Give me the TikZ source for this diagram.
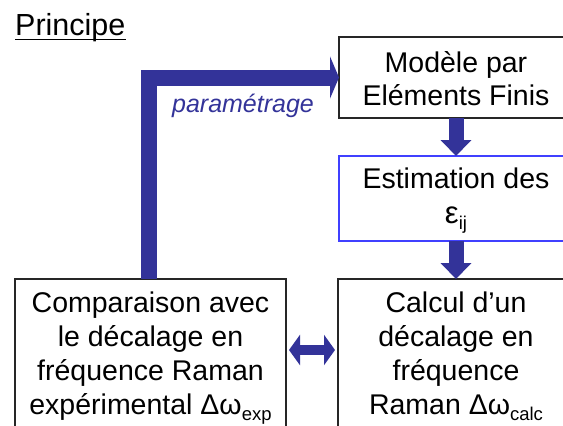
\documentclass[tikz,border=0pt]{standalone}
\usepackage{fontspec}
\setmainfont{Liberation Sans}
\usetikzlibrary{arrows.meta}
\definecolor{arrowblue}{RGB}{51,51,153}
\definecolor{boxblue}{RGB}{64,64,255}
\newcommand{\fstrut}{\rule{0pt}{27pt}}
\newcommand{\subtxt}[1]{\raisebox{-6pt}{\fontsize{18.5}{18.5}\selectfont #1}}
\begin{document}
\begin{tikzpicture}[x=1pt,y=-1pt,
  box/.style={draw=black!85, line width=1.2pt, minimum width=234pt, inner sep=0pt, outer sep=0pt},
  txt/.style={align=center, inner sep=0pt, outer sep=0pt, anchor=north},
  flow/.style={draw=arrowblue, line width=15pt, -{Triangle[width=30pt,length=16pt]}},
  twoway/.style={draw=arrowblue, line width=10pt, {Triangle[width=30pt,length=11pt]}-{Triangle[width=30pt,length=11pt]}, shorten <=3pt, shorten >=3pt},
  feedback/.style={draw=arrowblue, line width=16pt, line join=miter, -{Triangle[width=42pt,length=9pt]}}
]
\useasboundingbox (0,0) rectangle (563,426);
% title
\node[anchor=base west, inner sep=0pt, font=\fontsize{30.5}{30.5}\selectfont] (title) at (15,35) {Principe};
\draw[line width=1.5pt] ([yshift=-4.5pt]title.base west) -- ([yshift=-4.5pt]title.base east);
% boxes
\node[box, minimum height=81pt] (m1) at (456,77.5) {};
\node[box, draw=boxblue, minimum height=85pt] (m2) at (456,198.5) {};
\node[box, minimum height=200pt, minimum width=236pt] (rb) at (456,379) {};
\node[box, minimum height=200pt, minimum width=271pt] (lb) at (150.5,379) {};
% texts
\node[txt, font=\fontsize{28.5}{33}\selectfont] (t1) at (456,45) {\fstrut Modèle par\\Eléments Finis};
\node[txt, font=\fontsize{28.5}{35}\selectfont] (t2) at (456,161) {\fstrut Estimation des\\{\fontsize{31}{31}\selectfont ε}\subtxt{ij}};
\node[txt, font=\fontsize{28.5}{34}\selectfont] (t3) at (456,285) {\fstrut Calcul d’un\\décalage en\\fréquence\\Raman Δω\subtxt{calc}};
\node[txt, font=\fontsize{28.5}{34}\selectfont] (t4) at (150.5,285) {\fstrut Comparaison avec\\le décalage en\\fréquence Raman\\expérimental Δω\subtxt{exp}};
\node[anchor=base, inner sep=0pt, text=arrowblue, font=\itshape\fontsize{25}{25}\selectfont] (param) at (243,112) {paramétrage};
% connectors
\draw[flow] (m1.south) -- (m2.north);
\draw[flow] (m2.south) -- (rb.north);
\coordinate (mid) at (312,350);
\draw[twoway] (lb.east |- mid) -- (rb.west |- mid);
\coordinate (fb) at (148.5,279);
\draw[feedback] (fb) |- (m1.west);
\end{tikzpicture}
\end{document}
